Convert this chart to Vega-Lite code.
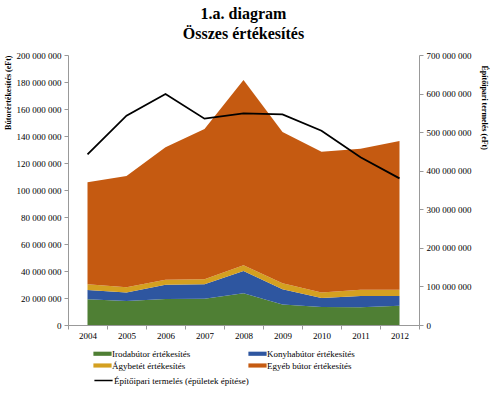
{
  "$schema": "https://vega.github.io/schema/vega-lite/v6.json",
  "width": 351,
  "height": 270,
  "autosize": {"type": "none"},
  "padding": {"left": 68, "top": 55, "right": 71, "bottom": 69},
  "background": "white",
  "title": {
    "text": ["1.a. diagram", "Összes értékesítés"],
    "font": "Liberation Serif",
    "fontSize": 16,
    "fontWeight": "bold",
    "color": "black",
    "lineHeight": 20,
    "anchor": "middle",
    "frame": "group",
    "offset": 9
  },
  "datasets": {
    "sales": [
      {"year": 2004, "cat": "Irodabútor értékesítés", "o": 1, "v": 19000000},
      {"year": 2005, "cat": "Irodabútor értékesítés", "o": 1, "v": 17800000},
      {"year": 2006, "cat": "Irodabútor értékesítés", "o": 1, "v": 19300000},
      {"year": 2007, "cat": "Irodabútor értékesítés", "o": 1, "v": 19500000},
      {"year": 2008, "cat": "Irodabútor értékesítés", "o": 1, "v": 23500000},
      {"year": 2009, "cat": "Irodabútor értékesítés", "o": 1, "v": 15100000},
      {"year": 2010, "cat": "Irodabútor értékesítés", "o": 1, "v": 13300000},
      {"year": 2011, "cat": "Irodabútor értékesítés", "o": 1, "v": 13100000},
      {"year": 2012, "cat": "Irodabútor értékesítés", "o": 1, "v": 14300000},
      {"year": 2004, "cat": "Konyhabútor értékesítés", "o": 2, "v": 6900000},
      {"year": 2005, "cat": "Konyhabútor értékesítés", "o": 2, "v": 6200000},
      {"year": 2006, "cat": "Konyhabútor értékesítés", "o": 2, "v": 10600000},
      {"year": 2007, "cat": "Konyhabútor értékesítés", "o": 2, "v": 10600000},
      {"year": 2008, "cat": "Konyhabútor értékesítés", "o": 2, "v": 16500000},
      {"year": 2009, "cat": "Konyhabútor értékesítés", "o": 2, "v": 11300000},
      {"year": 2010, "cat": "Konyhabútor értékesítés", "o": 2, "v": 6700000},
      {"year": 2011, "cat": "Konyhabútor értékesítés", "o": 2, "v": 8400000},
      {"year": 2012, "cat": "Konyhabútor értékesítés", "o": 2, "v": 7200000},
      {"year": 2004, "cat": "Ágybetét értékesítés", "o": 3, "v": 4200000},
      {"year": 2005, "cat": "Ágybetét értékesítés", "o": 3, "v": 3900000},
      {"year": 2006, "cat": "Ágybetét értékesítés", "o": 3, "v": 3700000},
      {"year": 2007, "cat": "Ágybetét értékesítés", "o": 3, "v": 3700000},
      {"year": 2008, "cat": "Ágybetét értékesítés", "o": 3, "v": 4200000},
      {"year": 2009, "cat": "Ágybetét értékesítés", "o": 3, "v": 4500000},
      {"year": 2010, "cat": "Ágybetét értékesítés", "o": 3, "v": 4000000},
      {"year": 2011, "cat": "Ágybetét értékesítés", "o": 3, "v": 4700000},
      {"year": 2012, "cat": "Ágybetét értékesítés", "o": 3, "v": 4700000},
      {"year": 2004, "cat": "Egyéb bútor értékesítés", "o": 4, "v": 75600000},
      {"year": 2005, "cat": "Egyéb bútor értékesítés", "o": 4, "v": 82500000},
      {"year": 2006, "cat": "Egyéb bútor értékesítés", "o": 4, "v": 98000000},
      {"year": 2007, "cat": "Egyéb bútor értékesítés", "o": 4, "v": 111400000},
      {"year": 2008, "cat": "Egyéb bútor értékesítés", "o": 4, "v": 137300000},
      {"year": 2009, "cat": "Egyéb bútor értékesítés", "o": 4, "v": 112100000},
      {"year": 2010, "cat": "Egyéb bútor értékesítés", "o": 4, "v": 104400000},
      {"year": 2011, "cat": "Egyéb bútor értékesítés", "o": 4, "v": 104400000},
      {"year": 2012, "cat": "Egyéb bútor értékesítés", "o": 4, "v": 110100000}
    ],
    "build": [
      {"year": 2004, "e": 442500000},
      {"year": 2005, "e": 542700000},
      {"year": 2006, "e": 598900000},
      {"year": 2007, "e": 534900000},
      {"year": 2008, "e": 548800000},
      {"year": 2009, "e": 546200000},
      {"year": 2010, "e": 503800000},
      {"year": 2011, "e": 434700000},
      {"year": 2012, "e": 380200000}
    ]
  },
  "layer": [
    {
      "data": {"name": "sales"},
      "mark": {"type": "area", "interpolate": "linear"},
      "encoding": {
        "x": {
          "field": "year", "type": "quantitative",
          "scale": {"domain": [2003.5, 2012.5], "nice": false, "zero": false},
          "axis": {
            "orient": "bottom", "title": null, "values": [2004, 2005, 2006, 2007, 2008, 2009, 2010, 2011, 2012],
            "format": "d", "ticks": false, "grid": false, "labelPadding": 6, "domainColor": "#999999"
          }
        },
        "y": {
          "field": "v", "type": "quantitative", "stack": "zero",
          "scale": {"domain": [0, 200000000], "nice": false},
          "axis": {
            "orient": "left", "title": "Bútorértékesítés (eFt)", "values": [0, 20000000, 40000000, 60000000, 80000000, 100000000, 120000000, 140000000, 160000000, 180000000, 200000000],
            "format": ",d", "grid": false, "tickSize": 4, "labelPadding": 3,
            "titleAnchor": "end", "titleAlign": "right", "titlePadding": 4, "domainColor": "#999999", "tickColor": "#999999"
          }
        },
        "order": {"field": "o", "type": "quantitative"},
        "color": {
          "field": "cat", "type": "nominal",
          "scale": {
            "domain": ["Irodabútor értékesítés", "Konyhabútor értékesítés", "Ágybetét értékesítés", "Egyéb bútor értékesítés"],
            "range": ["#4f7f34", "#2e56a0", "#d4a020", "#c55a11"]
          },
          "legend": {
            "title": null, "orient": "none", "legendX": 28, "legendY": 292, "columns": 2, "direction": "horizontal",
            "symbolType": "M-1.4,-0.32H1.4V0.32H-1.4Z", "symbolSize": 169, "symbolStrokeWidth": 0,
            "columnPadding": 57, "rowPadding": 0, "labelOffset": 3
          }
        }
      }
    },
    {
      "data": {"name": "build"},
      "mark": {"type": "line", "strokeWidth": 1.8},
      "encoding": {
        "x": {
          "field": "year", "type": "quantitative",
          "axis": {
            "orient": "bottom", "title": null, "values": [2003.5, 2004.5, 2005.5, 2006.5, 2007.5, 2008.5, 2009.5, 2010.5, 2011.5, 2012.5],
            "labels": false, "ticks": true, "tickSize": 4, "grid": false, "domainColor": "#999999", "tickColor": "#999999"
          }
        },
        "y": {
          "field": "e", "type": "quantitative",
          "scale": {"domain": [0, 700000000], "nice": false},
          "axis": {
            "orient": "right", "title": "Építőipari termelés (eFt)", "values": [0, 100000000, 200000000, 300000000, 400000000, 500000000, 600000000, 700000000],
            "format": ",d", "grid": false, "tickSize": 4, "labelPadding": 3,
            "titleAnchor": "end", "titleAlign": "left", "titleY": 10, "titlePadding": 8, "domainColor": "#999999", "tickColor": "#999999"
          }
        },
        "stroke": {
          "datum": "Építőipari termelés (épületek építése)",
          "scale": {"range": ["black"]},
          "legend": {
            "title": null, "orient": "none", "legendX": 28, "legendY": 318,
            "symbolType": "M-1.4,0H1.4", "symbolSize": 169, "symbolStrokeWidth": 1.5, "labelOffset": 3
          }
        }
      }
    }
  ],
  "resolve": {"scale": {"y": "independent"}, "axis": {"y": "independent", "x": "independent"}},
  "config": {
    "locale": {"number": {"decimal": ",", "thousands": " ", "grouping": [3], "currency": ["", ""]}},
    "view": {"stroke": null},
    "axis": {
      "labelFont": "Liberation Serif", "labelFontSize": 9, "labelColor": "black",
      "titleFont": "Liberation Serif", "titleFontSize": 8, "titleFontWeight": "bold", "titleColor": "black"
    },
    "legend": {
      "labelFont": "Liberation Serif", "labelFontSize": 9, "labelColor": "black"
    }
  }
}
